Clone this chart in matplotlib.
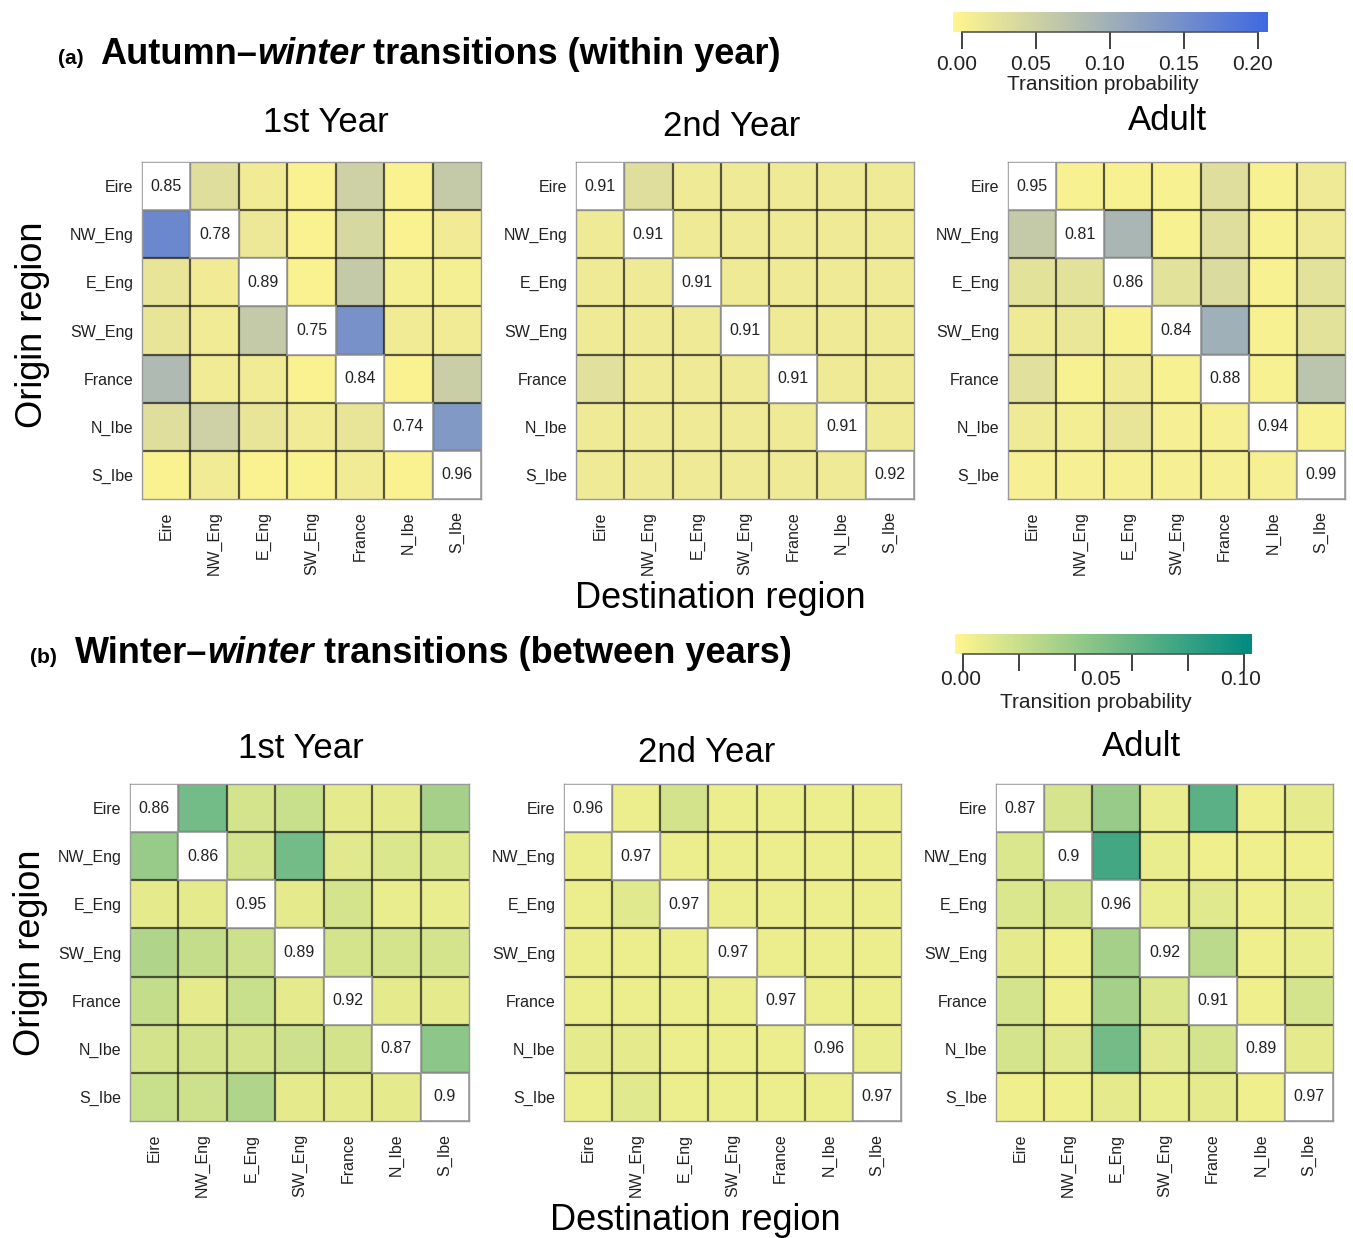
import numpy as np
import matplotlib
matplotlib.use("Agg")
import matplotlib.pyplot as plt
from matplotlib.colors import LinearSegmentedColormap

plt.rcParams['font.family'] = ['Liberation Sans', 'DejaVu Sans']

regions = ["Eire", "NW_Eng", "E_Eng", "SW_Eng", "France", "N_Ibe", "S_Ibe"]

# (a) Autumn-winter transitions (within year); rows = origin, cols = destination
aw_first = [
    [0.85, 0.03, 0.01, 0.00, 0.05, 0.00, 0.06],
    [0.16, 0.78, 0.015, 0.00, 0.04, 0.00, 0.01],
    [0.02, 0.01, 0.89, 0.00, 0.06, 0.005, 0.005],
    [0.02, 0.01, 0.06, 0.75, 0.145, 0.01, 0.01],
    [0.085, 0.01, 0.01, 0.00, 0.84, 0.00, 0.055],
    [0.03, 0.05, 0.02, 0.01, 0.02, 0.74, 0.135],
    [0.00, 0.01, 0.00, 0.00, 0.01, 0.00, 0.96],
]
aw_second = [
    [0.91, 0.03, 0.012, 0.012, 0.012, 0.012, 0.012],
    [0.012, 0.91, 0.012, 0.012, 0.012, 0.012, 0.012],
    [0.012, 0.012, 0.91, 0.012, 0.012, 0.012, 0.012],
    [0.012, 0.012, 0.012, 0.91, 0.012, 0.012, 0.012],
    [0.028, 0.012, 0.012, 0.012, 0.91, 0.012, 0.012],
    [0.012, 0.012, 0.012, 0.012, 0.012, 0.91, 0.012],
    [0.012, 0.012, 0.012, 0.012, 0.012, 0.012, 0.92],
]
aw_adult = [
    [0.95, 0.002, 0.002, 0.002, 0.03, 0.002, 0.012],
    [0.06, 0.81, 0.09, 0.002, 0.03, 0.002, 0.012],
    [0.025, 0.025, 0.86, 0.025, 0.035, 0.002, 0.025],
    [0.012, 0.018, 0.002, 0.84, 0.10, 0.002, 0.025],
    [0.028, 0.002, 0.012, 0.002, 0.88, 0.002, 0.07],
    [0.012, 0.008, 0.02, 0.004, 0.004, 0.94, 0.002],
    [0.004, 0.004, 0.004, 0.004, 0.004, 0.004, 0.99],
]

# (b) Winter-winter transitions (between years)
ww_first = [
    [0.86, 0.055, 0.015, 0.02, 0.008, 0.008, 0.035],
    [0.04, 0.86, 0.015, 0.055, 0.01, 0.012, 0.012],
    [0.008, 0.008, 0.95, 0.008, 0.015, 0.006, 0.006],
    [0.03, 0.022, 0.018, 0.89, 0.015, 0.015, 0.015],
    [0.022, 0.008, 0.02, 0.008, 0.92, 0.008, 0.008],
    [0.016, 0.016, 0.016, 0.018, 0.016, 0.87, 0.045],
    [0.02, 0.018, 0.03, 0.008, 0.008, 0.008, 0.90],
]
ww_second = [
    [0.96, 0.005, 0.016, 0.005, 0.005, 0.005, 0.005],
    [0.005, 0.97, 0.005, 0.005, 0.005, 0.005, 0.005],
    [0.005, 0.01, 0.97, 0.005, 0.005, 0.005, 0.005],
    [0.005, 0.005, 0.005, 0.97, 0.005, 0.005, 0.005],
    [0.005, 0.005, 0.005, 0.005, 0.97, 0.005, 0.005],
    [0.008, 0.008, 0.005, 0.005, 0.005, 0.96, 0.006],
    [0.005, 0.01, 0.005, 0.005, 0.005, 0.005, 0.97],
]
ww_adult = [
    [0.87, 0.014, 0.04, 0.006, 0.065, 0.004, 0.008],
    [0.012, 0.90, 0.075, 0.006, 0.004, 0.004, 0.004],
    [0.012, 0.012, 0.96, 0.006, 0.01, 0.004, 0.006],
    [0.008, 0.004, 0.035, 0.92, 0.025, 0.004, 0.006],
    [0.015, 0.004, 0.035, 0.012, 0.91, 0.004, 0.015],
    [0.015, 0.01, 0.055, 0.01, 0.015, 0.89, 0.008],
    [0.004, 0.004, 0.008, 0.006, 0.008, 0.004, 0.97],
]

stage_titles = ["1st Year", "2nd Year", "Adult"]
cbar_a_ticks = [0.00, 0.05, 0.10, 0.15, 0.20]
cbar_b_ticks = [0.00, 0.02, 0.04, 0.06, 0.08, 0.10]
cbar_b_labels = [0.00, 0.05, 0.10]

W, H = 1353, 1238
fig = plt.figure(figsize=(W / 100, H / 100), dpi=100)
renderer = fig.canvas.get_renderer()


def rect(x0, y0, x1, y1):
    return [x0 / W, 1 - y1 / H, (x1 - x0) / W, (y1 - y0) / H]


cmap_a = LinearSegmentedColormap.from_list("aw", ["#FFF68F", "#4169E1"])
cmap_a.set_bad("white")
cmap_b = LinearSegmentedColormap.from_list("ww", ["#FFF68F", "#008B80"])
cmap_b.set_bad("white")
va_min, va_max = -0.006, 0.207
vb_min, vb_max = -0.003, 0.103


def heat(box, data, cmap, vmin, vmax):
    ax = fig.add_axes(rect(*box))
    m = np.array(data, dtype=float)
    n = m.shape[0]
    masked = np.ma.array(m, mask=np.eye(n, dtype=bool))
    ax.pcolormesh(np.arange(n + 1), np.arange(n + 1), masked, cmap=cmap,
                  vmin=vmin, vmax=vmax)
    for k in range(1, n):
        ax.axvline(k, color="#1a1a1a", lw=1.6, alpha=0.72)
        ax.axhline(k, color="#1a1a1a", lw=1.6, alpha=0.72)
    for i in range(n):
        ax.add_patch(plt.Rectangle((i, i), 1, 1, fc="white", ec="#9a9a9a", lw=1.2, zorder=3))
        ax.text(i + 0.5, i + 0.5, f"{m[i, i]:g}", ha="center", va="center",
                fontsize=11.5, color="#222222", zorder=4)
    ax.set_xlim(0, n)
    ax.set_ylim(n, 0)
    ax.set_xticks(np.arange(n) + 0.5)
    ax.set_yticks(np.arange(n) + 0.5)
    ax.set_xticklabels(regions, rotation=90, fontsize=11.5, color="#222222")
    ax.set_yticklabels(regions, fontsize=11.5, color="#222222")
    ax.tick_params(axis="y", length=0, pad=6)
    ax.tick_params(axis="x", length=0, pad=9)
    for s in ax.spines.values():
        s.set_color("#999999")
        s.set_linewidth(1.0)
    return ax


boxes_a = [(142, 162, 481, 499), (576, 162, 914, 499), (1008, 162, 1345, 499)]
boxes_b = [(130, 784, 469, 1121), (564, 784, 901, 1121), (996, 784, 1333, 1121)]
title_a = [(326, 123), (732, 126), (1168, 120)]
title_b = [(301, 749), (707, 752), (1142, 746)]

for box, d, t, st in zip(boxes_a, [aw_first, aw_second, aw_adult], title_a, stage_titles):
    heat(box, d, cmap_a, va_min, va_max)
    fig.text(t[0] / W, 1 - t[1] / H, st, ha="center", va="center", fontsize=25)
for box, d, t, st in zip(boxes_b, [ww_first, ww_second, ww_adult], title_b, stage_titles):
    heat(box, d, cmap_b, vb_min, vb_max)
    fig.text(t[0] / W, 1 - t[1] / H, st, ha="center", va="center", fontsize=25)

fig.text(33 / W, 1 - 325 / H, "Origin region", rotation=90, ha="center", va="center", fontsize=26)
fig.text(31 / W, 1 - 953 / H, "Origin region", rotation=90, ha="center", va="center", fontsize=26)
fig.text(720 / W, 1 - 599 / H, "Destination region", ha="center", va="center", fontsize=26)
fig.text(695 / W, 1 - 1220 / H, "Destination region", ha="center", va="center", fontsize=26)


def title_parts(x_px, y_px, parts, size):
    x = x_px
    for txt, style in parts:
        t = fig.text(x / W, 1 - y_px / H, txt, ha="left", va="baseline",
                     fontsize=size, fontweight="bold", fontstyle=style)
        bb = t.get_window_extent(renderer=renderer)
        x += bb.width


fig.text(58 / W, 1 - 64 / H, "(a)", ha="left", va="baseline", fontsize=15, fontweight="bold")
title_parts(100, 64, [("Autumn–", "normal"), ("winter", "italic"),
                      (" transitions (within year)", "normal")], 26)
fig.text(30 / W, 1 - 663 / H, "(b)", ha="left", va="baseline", fontsize=15, fontweight="bold")
title_parts(75, 663, [("Winter–", "normal"), ("winter", "italic"),
                      (" transitions (between years)", "normal")], 26)


def cbar(box, cmap, vmin, vmax, ticks, labels, y_lab, y_title, shift):
    ax = fig.add_axes(rect(*box))
    grad = np.linspace(vmin, vmax, 300)[None, :]
    ax.imshow(grad, cmap=cmap, vmin=vmin, vmax=vmax, aspect="auto",
              extent=[vmin, vmax, 0, 1])
    ax.set_xlim(vmin, vmax)
    ax.set_ylim(0, 1)
    for s in ax.spines.values():
        s.set_visible(False)
    ax.set_yticks([])
    ax.set_xticks(ticks)
    ax.set_xticklabels([])
    ax.tick_params(axis="x", length=12, width=1.3, color="#333333")
    ax.plot([ticks[0], ticks[-1]], [0, 0], color="#555555", lw=1.2, clip_on=False)
    x0, x1 = box[0], box[2]
    for v in labels:
        xp = x0 + (v - vmin) / (vmax - vmin) * (x1 - x0) + shift
        fig.text(xp / W, 1 - y_lab / H, f"{v:.2f}", ha="center", va="center",
                 fontsize=15, color="#222222")
    fig.text(((x0 + x1) / 2 - 8) / W, 1 - y_title / H, "Transition probability",
             ha="center", va="center", fontsize=15, color="#222222")


cbar((953, 12, 1268, 32), cmap_a, va_min, va_max, cbar_a_ticks, cbar_a_ticks, 64, 85, -5)
cbar((955, 634, 1252, 654), cmap_b, vb_min, vb_max, cbar_b_ticks, cbar_b_labels, 680, 703, -3)

fig.savefig("out.png", dpi=100, facecolor="white")
